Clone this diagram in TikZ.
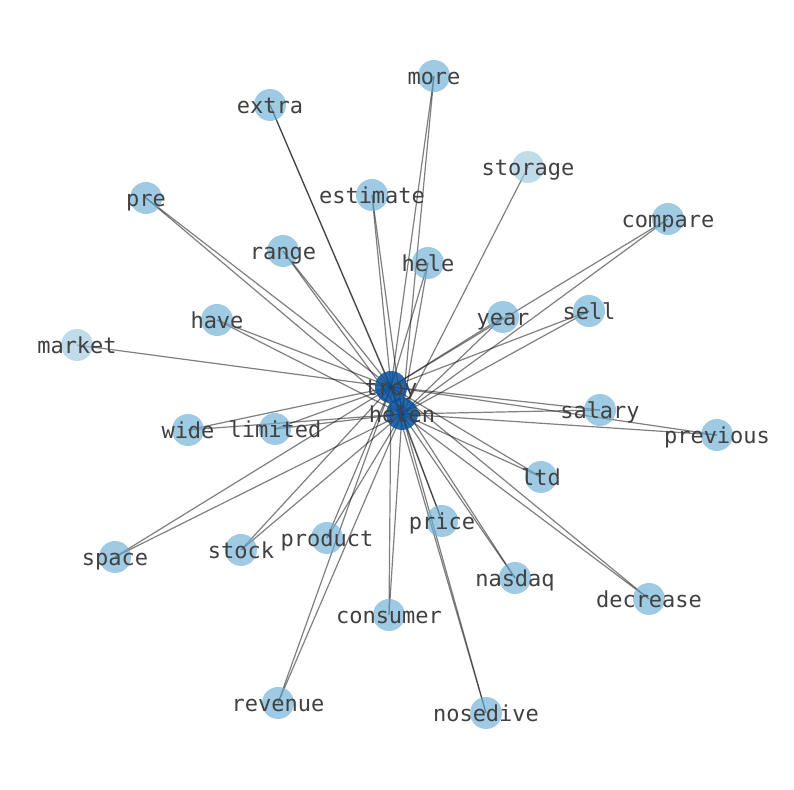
\documentclass[tikz,border=0pt]{standalone}
\usepackage{fontspec}
\setmonofont{DejaVu Sans Mono}
\usetikzlibrary{backgrounds}
\definecolor{leafblue}{RGB}{107,174,214}
\definecolor{paleblue}{RGB}{158,202,225}
\definecolor{hubblue}{RGB}{8,81,156}
\definecolor{wordgray}{RGB}{64,64,64}
\tikzset{
  word/.style={circle, minimum size=16pt, inner sep=0pt, fill=leafblue, fill opacity=0.65,
    label={[text=wordgray, text opacity=1, inner sep=0pt, text height=0.76em, text depth=0.24em,
      yshift=-1.5pt, font=\ttfamily\fontsize{11}{13}\selectfont]center:#1}},
  paleword/.style={word={#1}, fill=paleblue},
  hubword/.style={word={#1}, fill=hubblue, fill opacity=0.85},
  link/.style={draw=black, opacity=0.5, line width=0.6pt}
}
\begin{document}
\begin{tikzpicture}[x=0.5pt,y=-0.5pt]
\useasboundingbox (0,0) rectangle (794,790);
% hubs
\node[hubword=troy] (troy) at (391,387) {};
\node[hubword=helen] (helen) at (402,414) {};
% words
\node[word=more] (more) at (434,76) {};
\node[word=extra] (extra) at (270,105) {};
\node[paleword=storage] (storage) at (528,167) {};
\node[word=pre] (pre) at (146,198) {};
\node[word=estimate] (estimate) at (372,195) {};
\node[word=compare] (compare) at (668,219) {};
\node[word=range] (range) at (283,251) {};
\node[word=hele] (hele) at (428,263) {};
\node[word=have] (have) at (217,320) {};
\node[word=year] (year) at (503,317) {};
\node[word=sell] (sell) at (589,311) {};
\node[paleword=market] (market) at (77,345) {};
\node[word=salary] (salary) at (600,410) {};
\node[word=previous] (previous) at (717,435) {};
\node[word=wide] (wide) at (188,430) {};
\node[word=limited] (limited) at (275,429) {};
\node[word=ltd] (ltd) at (541,477) {};
\node[word=price] (price) at (442,521) {};
\node[word=space] (space) at (115,557) {};
\node[word=stock] (stock) at (241,550) {};
\node[word=product] (product) at (327,538) {};
\node[word=nasdaq] (nasdaq) at (515,578) {};
\node[word=decrease] (decrease) at (649,599) {};
\node[word=consumer] (consumer) at (389,615) {};
\node[word=revenue] (revenue) at (278,703) {};
\node[word=nosedive] (nosedive) at (486,713) {};
% links
\begin{scope}[on background layer]
\foreach \w in {more,extra,pre,estimate,compare,range,hele,have,year,sell,salary,previous,
  wide,limited,ltd,price,space,stock,product,nasdaq,decrease,consumer,revenue,nosedive}{
  \draw[link] (troy.center) -- (\w.center);
  \draw[link] (helen.center) -- (\w.center);
}
\draw[link] (troy.center) -- (market.center);
\draw[link] (helen.center) -- (storage.center);
\end{scope}
\end{tikzpicture}
\end{document}
